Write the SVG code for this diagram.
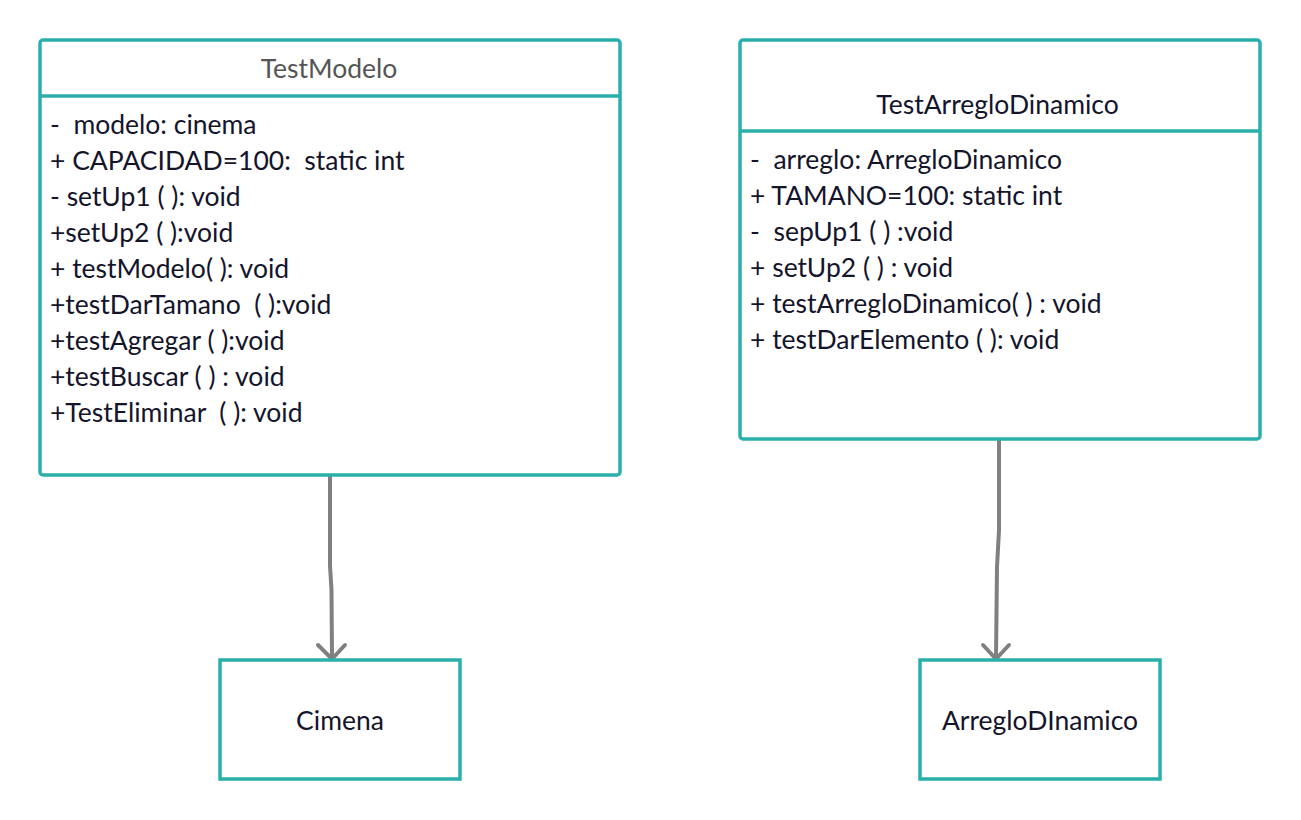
<svg xmlns="http://www.w3.org/2000/svg" width="1301" height="820" viewBox="0 0 1301 820">
<style>
.box{fill:#fff;stroke:#2ab0ab;stroke-width:3.5}
.div{stroke:#2ab0ab;stroke-width:3.5}
text{font-family:Lato,"Open Sans","Liberation Sans",sans-serif;font-size:26.5px;fill:#14142b;white-space:pre}
.t{text-anchor:middle}
.conn{fill:none;stroke:#808080;stroke-width:4;stroke-linejoin:round;stroke-linecap:round}
</style>
<rect width="1301" height="820" fill="#fff"/>
<g id="connectors">
<path class="conn" d="M330,477 L330,566 L331.5,590 L332,658"/>
<path class="conn" d="M318,645 L332,659 L345,645"/>
<path class="conn" d="M999,441 L999,530 L997,567 L996,658"/>
<path class="conn" d="M983,645 L996,659 L1009,645"/>
</g>
<g id="TestModelo">
<rect class="box" x="40" y="40" width="580" height="435" rx="3"/>
<line class="div" x1="40" y1="96" x2="620" y2="96"/>
<text class="t" x="329" y="78" style="fill:#555">TestModelo</text>
<text x="50" y="134">-  modelo: cinema</text>
<text x="50" y="170">+ CAPACIDAD=100:  static int</text>
<text x="50" y="206">- setUp1 ( ): void</text>
<text x="50" y="242">+setUp2 ( ):void</text>
<text x="50" y="278">+ testModelo( ): void</text>
<text x="50" y="314">+testDarTamano  ( ):void</text>
<text x="50" y="350">+testAgregar ( ):void</text>
<text x="50" y="386">+testBuscar ( ) : void</text>
<text x="50" y="422">+TestEliminar  ( ): void</text>
</g>
<g id="TestArregloDinamico">
<rect class="box" x="740" y="40" width="520" height="399" rx="3"/>
<line class="div" x1="740" y1="131" x2="1260" y2="131"/>
<text class="t" x="997.5" y="114">TestArregloDinamico</text>
<text x="750" y="169">-  arreglo: ArregloDinamico</text>
<text x="750" y="205">+ TAMANO=100: static int</text>
<text x="750" y="241">-  sepUp1 ( ) :void</text>
<text x="750" y="277">+ setUp2 ( ) : void</text>
<text x="750" y="313">+ testArregloDinamico( ) : void</text>
<text x="750" y="349">+ testDarElemento ( ): void</text>
</g>
<g id="Cimena">
<rect class="box" x="220" y="660" width="240" height="119"/>
<text class="t" x="340" y="730">Cimena</text>
</g>
<g id="ArregloDInamico">
<rect class="box" x="920" y="660" width="240" height="119"/>
<text class="t" x="1040" y="730">ArregloDInamico</text>
</g>
</svg>
